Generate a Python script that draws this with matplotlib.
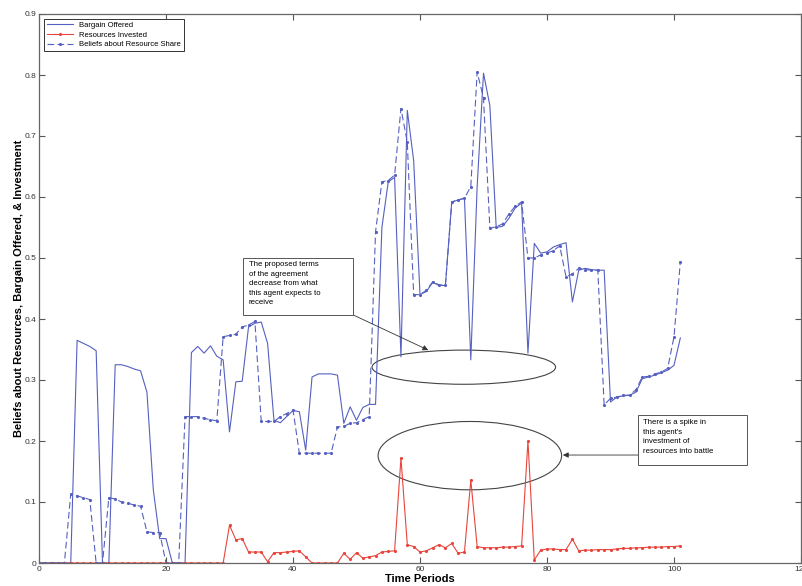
import numpy as np
import matplotlib
matplotlib.use("Agg")
import matplotlib.pyplot as plt
from matplotlib.patches import Ellipse, Rectangle

plt.rcParams['font.family'] = ['Liberation Sans', 'DejaVu Sans']

# values, one per time period (0..101)
bargain = [0, 0, 0, 0, 0, 0, 0.365, 0.36, 0.355, 0.348,
           0, 0, 0.325, 0.325, 0.322, 0.318, 0.315, 0.28, 0.12, 0.04,
           0.04, 0, 0, 0, 0.345, 0.355, 0.344, 0.356, 0.339, 0.333,
           0.215, 0.297, 0.298, 0.387, 0.393, 0.395, 0.36, 0.234, 0.23, 0.24,
           0.25, 0.248, 0.185, 0.305, 0.31, 0.31, 0.31, 0.308, 0.229, 0.256,
           0.234, 0.255, 0.26, 0.26, 0.55, 0.625, 0.632, 0.338, 0.742, 0.66,
           0.44, 0.445, 0.46, 0.455, 0.455, 0.592, 0.595, 0.598, 0.333, 0.617,
           0.803, 0.75, 0.55, 0.552, 0.565, 0.582, 0.59, 0.344, 0.524, 0.508,
           0.51, 0.518, 0.522, 0.525, 0.428, 0.48, 0.483, 0.481, 0.48, 0.48,
           0.264, 0.272, 0.274, 0.275, 0.28, 0.302, 0.305, 0.308, 0.312, 0.316,
           0.324, 0.369]

invested = [0, 0, 0, 0, 0, 0, 0, 0, 0, 0,
            0, 0, 0, 0, 0, 0, 0, 0, 0, 0,
            0, 0, 0, 0, 0, 0, 0, 0, 0, 0,
            0.062, 0.038, 0.04, 0.018, 0.018, 0.018, 0.002, 0.017, 0.017, 0.018,
            0.019, 0.02, 0.01, 0, 0, 0, 0, 0, 0.016, 0.006,
            0.017, 0.008, 0.01, 0.012, 0.018, 0.019, 0.02, 0.172, 0.03, 0.027,
            0.018, 0.02, 0.025, 0.03, 0.025, 0.032, 0.016, 0.018, 0.136, 0.027,
            0.025, 0.025, 0.025, 0.026, 0.026, 0.027, 0.028, 0.2, 0.005, 0.021,
            0.023, 0.023, 0.022, 0.022, 0.039, 0.02, 0.021, 0.021, 0.022, 0.022,
            0.022, 0.023, 0.024, 0.024, 0.025, 0.025, 0.026, 0.026, 0.026, 0.027,
            0.027, 0.028]

beliefs = [0, 0, 0, 0, 0, 0.113, 0.11, 0.107, 0.104, 0,
           0, 0.107, 0.105, 0.1, 0.098, 0.095, 0.093, 0.051, 0.05, 0.05,
           0, 0, 0, 0.24, 0.24, 0.24, 0.237, 0.235, 0.233, 0.371,
           0.373, 0.375, 0.387, 0.39, 0.396, 0.232, 0.232, 0.232, 0.24, 0.245,
           0.251, 0.18, 0.18, 0.18, 0.18, 0.18, 0.18, 0.223, 0.224, 0.229,
           0.23, 0.235, 0.24, 0.543, 0.625, 0.627, 0.636, 0.745, 0.69, 0.44,
           0.44, 0.447, 0.461, 0.456, 0.455, 0.592, 0.595, 0.598, 0.617, 0.805,
           0.762, 0.549, 0.551, 0.556, 0.572, 0.585, 0.592, 0.5, 0.5, 0.505,
           0.508, 0.512, 0.52, 0.469, 0.474, 0.483, 0.481, 0.48, 0.48, 0.259,
           0.27, 0.272, 0.275, 0.275, 0.284, 0.305, 0.306, 0.31, 0.313, 0.319,
           0.371, 0.494]

periods = np.arange(len(bargain))

blue = '#5560c0'
red = '#e8453c'

fig = plt.figure(figsize=(8.02, 5.86), dpi=100)
ax = fig.add_axes([39/802, 23/586, 762/802, 549/586])

ax.plot(periods, bargain, '-', color=blue, lw=0.8, label='Bargain Offered')
ax.plot(periods, invested, '-', color=red, lw=0.8, marker='.', ms=2.5,
        label='Resources Invested')
ax.plot(periods, beliefs, '--', color=blue, lw=0.8, marker='.', ms=2.5,
        dashes=(6, 3), label='Beliefs about Resource Share')

ax.set_xlim(0, 120)
ax.set_ylim(0, 0.9)
ax.set_xticks(np.arange(0, 121, 20))
ax.set_yticks(np.arange(0, 0.91, 0.1))
ax.set_yticklabels(['0', '0.1', '0.2', '0.3', '0.4', '0.5', '0.6', '0.7', '0.8', '0.9'])
ax.tick_params(direction='in', top=True, right=True, labelsize=6, length=4,
               color='#555555', labelcolor='#333333', pad=2)
for s in ax.spines.values():
    s.set_color('#666666')
    s.set_linewidth(0.9)

ax.set_xlabel('Time Periods', fontsize=8, fontweight='bold', labelpad=1)
ax.set_ylabel('Beliefs about Resources, Bargain Offered, & Investment',
              fontsize=8, fontweight='bold', labelpad=0)

leg = ax.legend(loc='upper left', fontsize=5.5, fancybox=False,
                edgecolor='#333333', framealpha=1, borderaxespad=0.6,
                handlelength=3.5, labelspacing=0.3, borderpad=0.4)
leg.get_frame().set_linewidth(0.7)

# annotation ellipses
ax.add_patch(Ellipse((66.9, 0.321), 28.9, 0.056, fill=False,
                     edgecolor='#444444', lw=0.8))
ax.add_patch(Ellipse((67.85, 0.176), 28.9, 0.112, fill=False,
                     edgecolor='#444444', lw=0.8))

# text boxes
ax.add_patch(Rectangle((32.1, 0.407), 17.3, 0.093, facecolor='white',
                       edgecolor='#555555', lw=0.7, zorder=4))
ax.text(33.0, 0.495, 'The proposed terms\nof the agreement\ndecrease from what\nthis agent expects to\nreceive',
        fontsize=5.6, va='top', ha='left', linespacing=1.5, zorder=5)
ax.add_patch(Rectangle((94.3, 0.161), 17.2, 0.082, facecolor='white',
                       edgecolor='#555555', lw=0.7, zorder=4))
ax.text(95.1, 0.236, "There is a spike in\nthis agent's\ninvestment of\nresources into battle",
        fontsize=5.6, va='top', ha='left', linespacing=1.5, zorder=5)

ax.annotate('', xy=(61.3, 0.349), xytext=(49.4, 0.407),
            arrowprops=dict(arrowstyle='-|>', color='#333333', lw=0.6,
                            mutation_scale=8, shrinkA=0, shrinkB=0))
ax.annotate('', xy=(82.5, 0.177), xytext=(94.3, 0.177),
            arrowprops=dict(arrowstyle='-|>', color='#333333', lw=0.6,
                            mutation_scale=8, shrinkA=0, shrinkB=0))

fig.savefig('out.png', dpi=100)
